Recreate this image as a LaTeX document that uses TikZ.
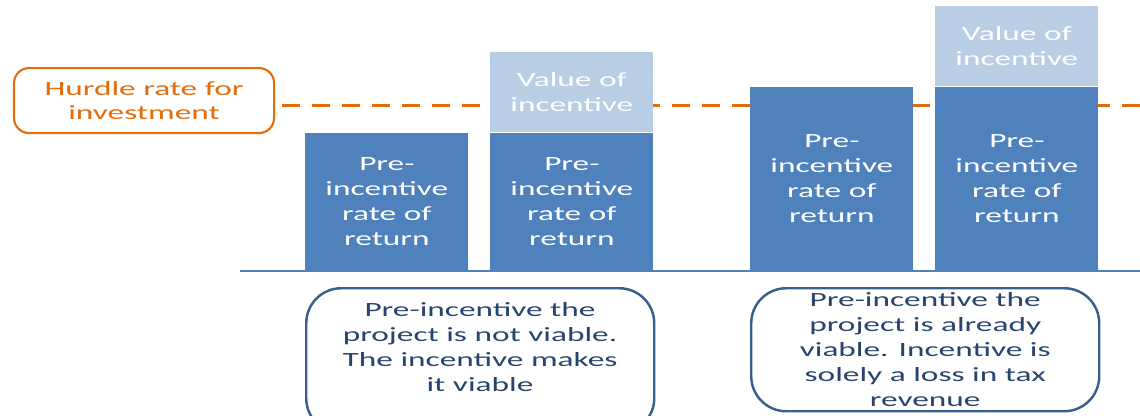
\documentclass[tikz,border=0pt]{standalone}
\usepackage{fontspec}
\setmainfont{Carlito}[FakeStretch=1.65]
\usetikzlibrary{positioning}
\definecolor{barblue}{HTML}{4F81BD}
\definecolor{barlight}{HTML}{B9CDE5}
\definecolor{hurdleorange}{HTML}{E46C0A}
\definecolor{noteblue}{HTML}{3A5F8F}
\definecolor{notetextblue}{HTML}{27446E}
\begin{document}
\begin{tikzpicture}[
        every node/.style={font=\fontsize{11.5}{14.2}\selectfont, align=center, inner sep=0pt},
        bar/.style={fill=barblue, text=white, minimum width=3.26cm, anchor=south west},
        incentive/.style={fill=barlight, text=white, minimum width=3.26cm, minimum height=1.6cm, anchor=south west},
        notebox/.style={draw=noteblue, line width=1.4pt, rounded corners=0.7cm, minimum width=6.96cm, anchor=north west},
        notetext/.style={text=notetextblue}
    ]
    \useasboundingbox (0,0) rectangle (22.8,-8.3);

    % hurdle rate
    \node (hurdle) [draw=hurdleorange, text=hurdleorange, line width=1.2pt, rounded corners=0.3cm, minimum width=5.2cm, minimum height=1.3cm, anchor=north west] at (0.26,-1.34) {Hurdle rate for\\investment};
    \coordinate (hurdleend) at (22.8,-2.1);
    \draw[hurdleorange, line width=1.7pt, dash pattern=on 0.36cm off 0.24cm] (hurdle.east |- hurdleend) ++(0.14,0) -- (hurdleend);

    % bars
    \node (bara) [bar, minimum height=2.76cm] at (6.1,-5.42) {Pre-\\incentive\\rate of\\return};
    \node (barb) [bar, minimum height=2.76cm] at (9.8,-5.42) {Pre-\\incentive\\rate of\\return};
    \node (incb) [incentive] at (barb.north west) {Value of\\incentive};
    \node (barc) [bar, minimum height=3.68cm] at (15.0,-5.42) {Pre-\\incentive\\rate of\\return};
    \node (bard) [bar, minimum height=3.68cm] at (18.7,-5.42) {Pre-\\incentive\\rate of\\return};
    \node (incd) [incentive] at (bard.north west) {Value of\\incentive};

    % axis
    \coordinate (axisstart) at (4.8,-5.42);
    \coordinate (axisend) at (22.8,-5.42);
    \draw[barblue, line width=1.1pt] (axisstart) -- (axisend);

    % notes
    \node (notea) [notebox, minimum height=2.9cm] at (6.1,-5.74) {};
    \node (noteatext) [notetext] at (9.6,-6.94) {Pre-incentive the\\project is not viable.\\The incentive makes\\it viable};
    \node (noteb) [notebox, minimum height=2.46cm] at (15.0,-5.74) {};
    \node (notebtext) [notetext] at (noteb.center) {Pre-incentive the\\project is already\\viable. Incentive is\\solely a loss in tax\\revenue};
\end{tikzpicture}
\end{document}
